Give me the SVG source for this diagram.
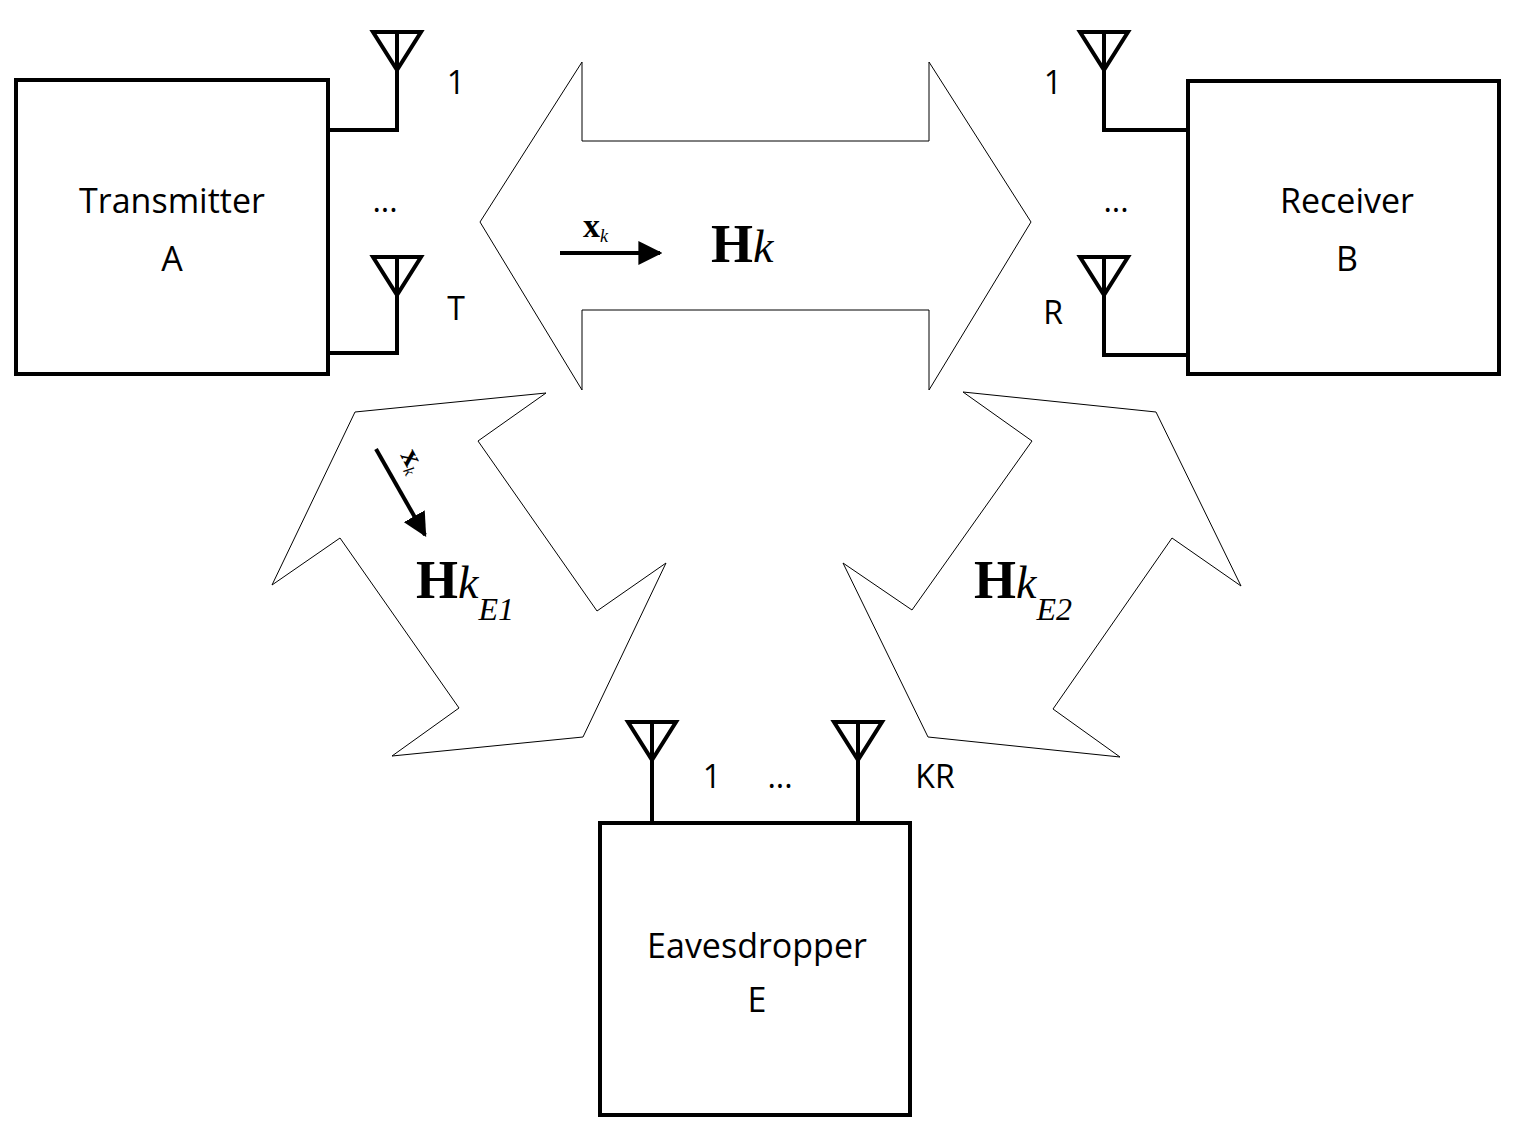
<svg xmlns="http://www.w3.org/2000/svg" width="1522" height="1133" viewBox="0 0 1522 1133">
<style>
.box{fill:#fff;stroke:#000;stroke-width:4}
.ant{fill:none;stroke:#000;stroke-width:4;stroke-linejoin:miter}
.ch{fill:#fff;stroke:#000;stroke-width:1}
.lbl{font-family:"Open Sans","Liberation Sans",sans-serif;font-size:34px;fill:#000}
.num{font-family:"Open Sans","Liberation Sans",sans-serif;font-size:32px;fill:#000}
.mb{font-family:"Liberation Serif",serif;font-weight:bold;fill:#000}
.mi{font-family:"Liberation Serif",serif;font-style:italic;fill:#000}
</style>
<defs>
<marker id="ah" viewBox="0 0 10 10" refX="9" refY="5" markerWidth="6" markerHeight="6" markerUnits="strokeWidth" orient="auto"><path d="M0,0L10,5L0,10z" fill="#000"/></marker>
<g id="antenna"><path class="ant" d="M-24,0H24L0,38Z M0,0V38"/></g>
</defs>
<g id="connectors">
<polygon class="ch" points="480,222 582,62 582,141 929,141 929,62 1031,222 929,390 929,310 582,310 582,390"/>
<polygon class="ch" points="355,412 546,393 478,441 597,611 666,563 583,737 392,756 459,708 340,538 272,585"/>
<polygon class="ch" points="963,392 1156,412 1241,586 1172,538 1053,709 1120,757 928,737 843,563 912,610 1032,441"/>
<line x1="560" y1="253" x2="660" y2="253" stroke="#000" stroke-width="4" marker-end="url(#ah)"/>
<line x1="376" y1="449" x2="425" y2="535" stroke="#000" stroke-width="4" marker-end="url(#ah)"/>
<path class="ant" d="M397,70V130H328 M397,295V353H328 M1104,70V130H1188 M1104,295V355H1188 M652,760V823 M858,760V823"/>
</g>
<g id="transmitter">
<rect class="box" x="16" y="80" width="312" height="294"/>
<text class="lbl" x="172" y="213" text-anchor="middle">Transmitter</text>
<text class="lbl" x="172" y="271" text-anchor="middle">A</text>
<use href="#antenna" x="397" y="32"/>
<use href="#antenna" x="397" y="257"/>
<text class="num" x="456" y="94" text-anchor="middle">1</text>
<text class="num" x="385" y="212" text-anchor="middle">...</text>
<text class="num" x="456" y="320" text-anchor="middle">T</text>
</g>
<g id="receiver">
<rect class="box" x="1188" y="81" width="311" height="293"/>
<text class="lbl" x="1347" y="213" text-anchor="middle">Receiver</text>
<text class="lbl" x="1347" y="271" text-anchor="middle">B</text>
<use href="#antenna" x="1104" y="32"/>
<use href="#antenna" x="1104" y="257"/>
<text class="num" x="1053" y="94" text-anchor="middle">1</text>
<text class="num" x="1116" y="212" text-anchor="middle">...</text>
<text class="num" x="1053" y="324" text-anchor="middle">R</text>
</g>
<g id="eavesdropper">
<rect class="box" x="600" y="823" width="310" height="292"/>
<text class="lbl" x="757" y="958" text-anchor="middle">Eavesdropper</text>
<text class="lbl" x="757" y="1012" text-anchor="middle">E</text>
<use href="#antenna" x="652" y="722"/>
<use href="#antenna" x="858" y="722"/>
<text class="num" x="712" y="788" text-anchor="middle">1</text>
<text class="num" x="780" y="788" text-anchor="middle">...</text>
<text class="num" x="935" y="788" text-anchor="middle">KR</text>
</g>
<g id="labels">
<text x="583" y="237"><tspan class="mb" font-size="34">x</tspan><tspan class="mi" font-size="18" dy="5">k</tspan></text>
<text x="711" y="262"><tspan class="mb" font-size="54">H</tspan><tspan class="mi" font-size="46">k</tspan></text>
<text transform="translate(400,455) rotate(62)"><tspan class="mb" font-size="30">x</tspan><tspan class="mi" font-size="16" dy="5">k</tspan></text>
<text x="416" y="598"><tspan class="mb" font-size="54">H</tspan><tspan class="mi" font-size="46">k</tspan><tspan class="mi" font-size="32" dy="22">E</tspan><tspan class="mi" font-style="normal" font-size="32">1</tspan></text>
<text x="974" y="598"><tspan class="mb" font-size="54">H</tspan><tspan class="mi" font-size="46">k</tspan><tspan class="mi" font-size="32" dy="22">E</tspan><tspan class="mi" font-style="normal" font-size="32">2</tspan></text>
</g>
</svg>
